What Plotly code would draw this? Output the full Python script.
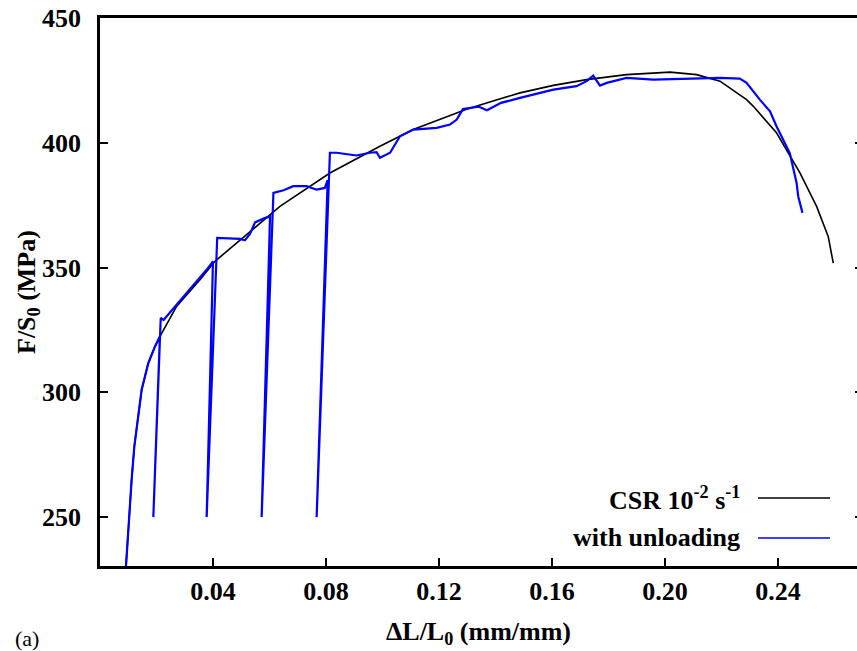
import plotly.graph_objects as go

# CSR 10^-2 s^-1 curve (black)
csr_strain = [0.0092, 0.0100, 0.0112, 0.01215, 0.01357, 0.01475, 0.0171, 0.01947, 0.02124,
              0.0271, 0.0354, 0.0407, 0.0519, 0.0637, 0.0814, 0.0991, 0.1109, 0.1204, 0.1300,
              0.1400, 0.1487, 0.1605, 0.1723, 0.1864, 0.2018, 0.2112, 0.2195, 0.2289, 0.2313,
              0.2395, 0.2478, 0.2537, 0.2578, 0.2596]
csr_stress = [230.4, 246.2, 265.0, 278.3, 291.7, 301.0, 311.7, 318.4, 322.4,
              334.4, 345.1, 352.5, 363.2, 374.5, 387.9, 398.6, 405.3, 409.3, 413.5,
              417.0, 420.0, 423.0, 425.3, 427.3, 428.3, 427.3, 424.7, 417.3, 414.6,
              404.0, 387.9, 374.5, 362.5, 351.8]

# with unloading (blue)
unl_strain = [0.0092, 0.0100, 0.0112, 0.01215, 0.01357, 0.01475, 0.0171, 0.01947, 0.0212,
              0.01888, 0.0215, 0.0225, 0.0263, 0.0319, 0.0378, 0.0400,
              0.03776, 0.0415, 0.0460, 0.0496, 0.0513, 0.0531, 0.0549, 0.0578, 0.0602,
              0.05723, 0.0614, 0.0650, 0.0684, 0.0732, 0.0767, 0.0796, 0.0806,
              0.0767, 0.0814, 0.0838, 0.0908, 0.0956, 0.0979, 0.0991, 0.1027, 0.1062, 0.1109,
              0.1192, 0.1239, 0.1263, 0.1285, 0.1340, 0.1370, 0.1420, 0.1487, 0.1605, 0.1687,
              0.1723, 0.1746, 0.1770, 0.1794, 0.1864, 0.1959, 0.2077, 0.2195, 0.2265, 0.2289,
              0.2336, 0.2372, 0.2395, 0.2442, 0.2466, 0.2472, 0.2487]
unl_stress = [230.4, 246.2, 265.0, 278.3, 291.7, 301.0, 311.7, 318.4, 322.4,
              250.0, 329.8, 329.0, 334.0, 341.1, 349.2, 352.5,
              250.0, 361.9, 361.6, 361.5, 360.9, 363.5, 368.1, 369.6, 370.5,
              250.0, 379.9, 381.0, 382.6, 382.6, 381.2, 381.9, 385.0,
              250.0, 396.0, 396.0, 394.9, 396.0, 396.2, 394.0, 396.0, 402.6, 405.3,
              406.0, 407.3, 409.3, 413.5, 414.5, 413.0, 416.0, 418.0, 421.3, 422.7,
              424.7, 426.9, 422.9, 424.0, 426.0, 425.3, 425.7, 426.0, 425.7, 424.0,
              417.3, 412.6, 406.6, 395.9, 384.0, 378.5, 371.9]

x_tickvals = [0.04, 0.08, 0.12, 0.16, 0.20, 0.24]
x_ticktext = ["0.04", "0.08", "0.12", "0.16", "0.20", "0.24"]
y_tickvals = [250, 300, 350, 400, 450]

W, H = 857, 651
L, R, T, B = 100, 0, 18, 85
pw, ph = W - L - R, H - T - B

def px(x):
    return (x - L) / pw

def py(y):
    return (H - B - y) / ph

FONT = "Liberation Serif"

fig = go.Figure()
fig.add_trace(go.Scatter(x=csr_strain, y=csr_stress, mode="lines",
                         line=dict(color="#000000", width=1.6), showlegend=False))
fig.add_trace(go.Scatter(x=unl_strain, y=unl_stress, mode="lines",
                         line=dict(color="#0000ff", width=2.2), showlegend=False))
fig.add_trace(go.Scatter(x=[], y=[], yaxis="y2", showlegend=False))

fig.update_layout(
    width=W, height=H,
    margin=dict(l=L, r=R, t=T, b=B, pad=0),
    paper_bgcolor="white", plot_bgcolor="white",
    font=dict(family=FONT, color="black"),
    xaxis=dict(range=[0, 0.268], tickvals=x_tickvals, ticktext=x_ticktext,
               ticks="inside", ticklen=8, tickwidth=2, tickcolor="black",
               showline=True, linewidth=2.5, linecolor="black", mirror=True,
               showgrid=False, zeroline=False,
               tickfont=dict(family=FONT, size=26, weight="bold"),
               ticklabelstandoff=0),
    yaxis=dict(range=[230.4, 450], tickvals=y_tickvals,
               ticks="inside", ticklen=8, tickwidth=2, tickcolor="black",
               showline=True, linewidth=2.5, linecolor="black", mirror=False,
               showgrid=False, zeroline=False,
               tickfont=dict(family=FONT, size=26, weight="bold"),
               ticklabelstandoff=11),
    yaxis2=dict(range=[230.4, 450], overlaying="y", side="right", tickvals=y_tickvals,
                ticks="inside", ticklen=2, tickwidth=2, tickcolor="black",
                showticklabels=False, showline=False, showgrid=False, zeroline=False),
)

ann = [
    dict(text="<b>ΔL/L<sub>0</sub> (mm/mm)</b>", x=px(478), y=py(633), xanchor="center", yanchor="middle",
         font=dict(family=FONT, size=26)),
    dict(text="<b>F/S<sub>0</sub> (MPa)</b>", x=px(28), y=py(292), xanchor="center", yanchor="middle",
         textangle=-90, font=dict(family=FONT, size=26)),
    dict(text="(a)", x=px(13), y=py(638), xanchor="left", yanchor="middle",
         font=dict(family=FONT, size=22)),
    dict(text="<b>CSR 10<sup>-2</sup> s<sup>-1</sup></b>", x=px(742), y=py(498), xanchor="right", yanchor="middle",
         font=dict(family=FONT, size=26)),
    dict(text="<b>with unloading</b>", x=px(742), y=py(537), xanchor="right", yanchor="middle",
         font=dict(family=FONT, size=26)),
]
for a in ann:
    a.update(xref="paper", yref="paper", showarrow=False)
fig.update_layout(annotations=ann)

fig.add_shape(type="line", xref="paper", yref="paper", x0=px(758), x1=px(830), y0=py(498), y1=py(498),
              line=dict(color="#000000", width=1.6))
fig.add_shape(type="line", xref="paper", yref="paper", x0=px(758), x1=px(830), y0=py(538), y1=py(538),
              line=dict(color="#0000ff", width=1.6))

fig.write_html("out.html", config={"displayModeBar": False},
               post_script="document.body.style.margin='0';document.body.style.overflow='hidden';")
